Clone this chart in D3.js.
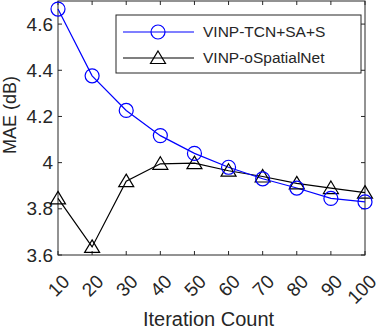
<!DOCTYPE html>
<html lang="en">
<head>
  <meta charset="UTF-8">
  <title>MAE vs Iteration Count</title>
  <style>
    body { margin: 0; background: #fff; }
    text { font-family: 'Liberation Sans', Arial, Helvetica, sans-serif; fill: #262626; }
  </style>
</head>
<body>
  <svg id="svg" width="382" height="330"></svg>

  <script src="https://d3js.org/d3.v7.min.js"></script>
  <script>
    // data
    const iterations = [10, 20, 30, 40, 50, 60, 70, 80, 90, 100]
    const tcnMae = [4.665, 4.376, 4.226, 4.117, 4.04, 3.98, 3.93, 3.89, 3.845, 3.83]
    const spatialMae = [3.845, 3.635, 3.92, 3.995, 3.998, 3.965, 3.94, 3.91, 3.89, 3.87]
    const seriesNames = ['VINP-TCN+SA+S', 'VINP-oSpatialNet']
    const yTicks = [3.6, 3.8, 4, 4.2, 4.4, 4.6]
    const axisColor = '#262626'

    const plotL = 58, plotR = 365, plotT = 1, plotB = 255

    const svg = d3.select('#svg')

    const x = d3.scaleLinear()
      .domain([10, 100])
      .range([plotL, plotR])

    const y = d3.scaleLinear()
      .domain([3.6, 4.7])
      .range([plotB, plotT])

    // box + ticks (MATLAB style, ticks inside, mirrored)
    const axes = svg.append('g')
    axes.append('rect')
      .attr('x', plotL).attr('y', plotT)
      .attr('width', plotR - plotL).attr('height', plotB - plotT)
      .attr('fill', 'none')
      .attr('stroke', axisColor)
      .attr('stroke-width', 1)

    axes.selectAll('.xt')
      .data(iterations)
      .enter()
      .append('path')
      .attr('d', d => `M${x(d)},${plotB}v-4M${x(d)},${plotT}v4`)
      .attr('stroke', axisColor)

    axes.selectAll('.yt')
      .data(yTicks)
      .enter()
      .append('path')
      .attr('d', d => `M${plotL},${y(d)}h4M${plotR},${y(d)}h-4`)
      .attr('stroke', axisColor)

    // tick labels
    svg.selectAll('.ylab')
      .data(yTicks)
      .enter()
      .append('text')
      .attr('x', plotL - 5)
      .attr('y', d => y(d))
      .attr('dy', '0.35em')
      .attr('text-anchor', 'end')
      .style('font-size', '19px')
      .text(d => d)

    svg.selectAll('.xlab')
      .data(iterations)
      .enter()
      .append('text')
      .attr('transform', d => `translate(${x(d) + 8},${plotB + 23}) rotate(-45)`)
      .attr('dy', '0.35em')
      .attr('text-anchor', 'end')
      .style('font-size', '19px')
      .text(d => d)

    // axis titles
    svg.append('text')
      .attr('x', (plotL + plotR) / 2 - 3)
      .attr('y', 326)
      .attr('text-anchor', 'middle')
      .style('font-size', '20px')
      .text('Iteration Count')

    svg.append('text')
      .attr('transform', `translate(16,${(plotT + plotB) / 2 - 13}) rotate(-90)`)
      .attr('text-anchor', 'middle')
      .style('font-size', '18px')
      .text('MAE (dB)')

    // series
    const line = d3.line()
      .x((d, i) => x(iterations[i]))
      .y(d => y(d))

    const tri = 'M0,-7L7.5,5.5L-7.5,5.5Z'

    svg.append('path')
      .datum(spatialMae)
      .attr('d', line)
      .attr('fill', 'none')
      .attr('stroke', '#000')
      .attr('stroke-width', 1.2)

    svg.append('path')
      .datum(tcnMae)
      .attr('d', line)
      .attr('fill', 'none')
      .attr('stroke', '#0000ff')
      .attr('stroke-width', 1.2)

    svg.selectAll('.tri')
      .data(spatialMae)
      .enter()
      .append('path')
      .attr('d', tri)
      .attr('transform', (d, i) => `translate(${x(iterations[i])},${y(d)})`)
      .attr('fill', 'none')
      .attr('stroke', '#000')
      .attr('stroke-width', 1.2)

    svg.selectAll('.circ')
      .data(tcnMae)
      .enter()
      .append('circle')
      .attr('cx', (d, i) => x(iterations[i]))
      .attr('cy', d => y(d))
      .attr('r', 7)
      .attr('fill', 'none')
      .attr('stroke', '#0000ff')
      .attr('stroke-width', 1.2)

    // legend
    const legend = svg.append('g')
    legend.append('rect')
      .attr('x', 116).attr('y', 15)
      .attr('width', 245).attr('height', 58)
      .attr('fill', '#fff')
      .attr('stroke', axisColor)
      .attr('stroke-width', 1)

    const rows = legend.selectAll('.row')
      .data(seriesNames)
      .enter()
      .append('g')
      .attr('transform', (d, i) => `translate(0,${32 + i * 26})`)

    rows.append('line')
      .attr('x1', 123).attr('x2', 194)
      .attr('stroke', (d, i) => i === 0 ? '#0000ff' : '#000')
      .attr('stroke-width', 1.2)

    rows.filter((d, i) => i === 0)
      .append('circle')
      .attr('cx', 158).attr('r', 7)
      .attr('fill', 'none').attr('stroke', '#0000ff').attr('stroke-width', 1.2)

    rows.filter((d, i) => i === 1)
      .append('path')
      .attr('d', tri)
      .attr('transform', 'translate(158,0)')
      .attr('fill', 'none').attr('stroke', '#000').attr('stroke-width', 1.2)

    rows.append('text')
      .attr('x', 203)
      .attr('dy', '0.35em')
      .style('font-size', '15.5px')
      .text(d => d)
  </script>
</body>
</html>
